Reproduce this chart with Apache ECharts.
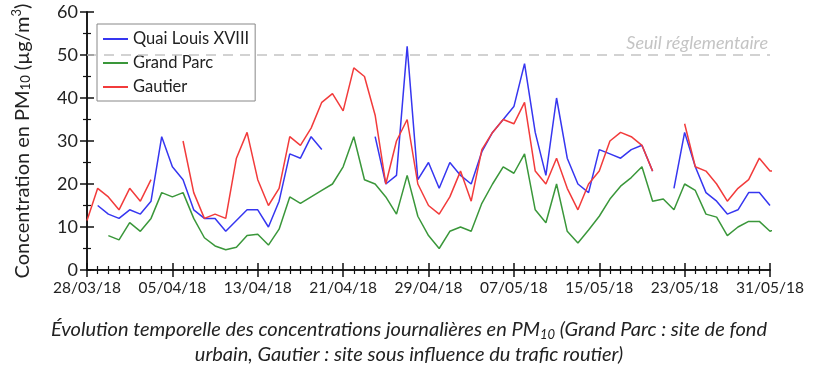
<!DOCTYPE html>
<html>
<head>
<meta charset="utf-8">
<title>PM10 journalier</title>
<script src="https://cdn.jsdelivr.net/npm/echarts@6/dist/echarts.min.js"></script>
<style>
  *{margin:0;padding:0;}
  body{background:#fff;}
  #main{width:818px;height:367px;}
</style>
</head>
<body>
<div id="main"></div>
<script>
// jours depuis le 28/03/18 (le dernier point = 01/06, hors axe)
var tickLabels = ['28/03/18','05/04/18','13/04/18','21/04/18','29/04/18','07/05/18','15/05/18','23/05/18','31/05/18'];
var seuil = 50;

var quai = [null,15,13,12,14,13,16,31,24,21,14,12,12,9,11.5,14,14,10,16,27,26,31,28,null,null,null,null,
  31,20,22,52,21,25,19,25,22,20,27.5,32,35,38,48,32,22,40,26,20,18,28,27,26,28,29,23,null,
  19,32,24,18,16,13,14,18,18,15,null];
var grandParc = [null,null,8,7,11,9,12,18,17,18,12,7.5,5.6,4.7,5.3,8,8.3,5.8,9.5,17,15.5,17,18.5,20,24,31,21,
  20,17,13,22,12.5,8,5,9,10,9,15.5,20,24,22.5,27,14,11,20,9,6.3,9.3,12.5,16.5,19.5,21.5,24,16,16.5,
  14,20,18.5,13,12.3,8,10,11.3,11.3,9,10];
var gautier = [11.5,19,17,14,19,16,21,null,null,30,18,12,13,12,26,32,21,15,19,31,29,33,39,41,37,47,45,
  36,20,30,35,20,15,13,17,23,16,28,32,35,34,39,23,20,26,19,14,20,23,30,32,31,29,23,null,
  null,34,24,23,20,16,19,21,26,23,23];

function pairs(arr){
    var out = [];
    for(var i=0;i<arr.length;i++){
        out.push([i, arr[i] === null ? '-' : arr[i]]);
    }
    return out;
}

var myChart = echarts.init(document.getElementById('main'));
var txt = '#222';
var axisBase = {
    min:0, max:64, interval:8,
    axisLine:{lineStyle:{color:'#111',width:1.5}},
    splitLine:{show:false}
};
var option = {
    animation:false,
    textStyle:{fontFamily:'Lato'},
    title:{
        left:'center',
        top:312,
        text:'{i|Évolution temporelle des concentrations journalières en PM}{s|10}{i| (Grand Parc : site de fond}\n{i|urbain, Gautier : site sous influence du trafic routier)}',
        textStyle:{
            fontWeight:'normal',
            lineHeight:25,
            rich:{
                i:{fontFamily:'Lato',fontStyle:'italic',fontWeight:'normal',fontSize:20,color:txt,lineHeight:25},
                s:{fontFamily:'Lato',fontStyle:'italic',fontWeight:'normal',fontSize:13,color:txt,padding:[10,0,0,0]}
            }
        }
    },
    legend:{
        orient:'vertical',
        left:97, top:24,
        padding:[6,6,5,6],
        itemGap:6,
        itemWidth:25,
        itemHeight:2,
        icon:'rect',
        backgroundColor:'#fff',
        borderColor:'#888',
        borderWidth:1,
        textStyle:{fontFamily:'Lato',fontSize:16.5,color:txt,lineHeight:18},
        data:['Quai Louis XVIII','Grand Parc','Gautier']
    },
    grid:{left:87,right:48,top:12,bottom:97},
    xAxis:[
        Object.assign({}, axisBase, {
            type:'value', position:'bottom',
            axisTick:{inside:true,length:7,lineStyle:{color:'#111',width:1.5}},
            minorTick:{show:true,splitNumber:8,length:4,lineStyle:{color:'#111',width:1.2}},
            axisLabel:{
                fontFamily:'Lato',fontSize:15.5,color:txt,margin:10,
                formatter:function(v){ return tickLabels[Math.round(v/8)]; }
            }
        }),
        Object.assign({}, axisBase, {
            type:'value', position:'top',
            axisTick:{inside:true,length:7,lineStyle:{color:'#111',width:1.5}},
            minorTick:{show:true,splitNumber:8,length:4,lineStyle:{color:'#111',width:1.2}},
            axisLabel:{show:false}
        })
    ],
    yAxis:[
        {
            type:'value', min:0, max:60, interval:10, position:'left',
            axisLine:{lineStyle:{color:'#111',width:1.5}},
            axisTick:{inside:true,length:7,lineStyle:{color:'#111',width:1.5}},
            minorTick:{show:true,splitNumber:2,length:4,lineStyle:{color:'#111',width:1.2}},
            splitLine:{show:false},
            axisLabel:{fontFamily:'Lato',fontSize:18,color:txt,margin:9},
            name:'{a|Concentration en PM}{s|10}{a| (µg/m}{p|3}{a|)}',
            nameLocation:'middle',
            nameGap:52,
            nameTextStyle:{
                rich:{
                    a:{fontFamily:'Lato',fontSize:20,color:txt},
                    s:{fontFamily:'Lato',fontSize:13,color:txt,padding:[6,0,0,0]},
                    p:{fontFamily:'Lato',fontSize:13,color:txt,padding:[0,0,12,0]}
                }
            }
        },
        {
            type:'value', min:0, max:60, interval:10, position:'right',
            axisLine:{show:true,lineStyle:{color:'#111',width:1.5}},
            axisTick:{show:true,inside:true,length:7,lineStyle:{color:'#111',width:1.5}},
            minorTick:{show:true,splitNumber:2,length:4,lineStyle:{color:'#111',width:1.2}},
            splitLine:{show:false},
            axisLabel:{show:false}
        }
    ],
    series:[
        {
            name:'Quai Louis XVIII', type:'line', symbol:'none', connectNulls:false, clip:false,
            itemStyle:{color:'#3636f0'},
            lineStyle:{color:'#3636f0',width:1.5},
            data:pairs(quai),
            markLine:{
                silent:true, symbol:'none',
                lineStyle:{color:'#c4c4c4',type:[10,7],width:1.6},
                label:{
                    position:'insideEndTop',
                    formatter:'Seuil réglementaire',
                    fontFamily:'Lato',fontStyle:'italic',fontSize:18,color:'#c4c4c4',
                    distance:[2,3]
                },
                data:[{yAxis:seuil}]
            }
        },
        {
            name:'Grand Parc', type:'line', symbol:'none', clip:false,
            itemStyle:{color:'#3a973a'},
            lineStyle:{color:'#3a973a',width:1.5},
            data:pairs(grandParc)
        },
        {
            name:'Gautier', type:'line', symbol:'none', clip:false,
            itemStyle:{color:'#f23b3b'},
            lineStyle:{color:'#f23b3b',width:1.5},
            data:pairs(gautier)
        }
    ]
};
myChart.setOption(option);
</script>
</body>
</html>
